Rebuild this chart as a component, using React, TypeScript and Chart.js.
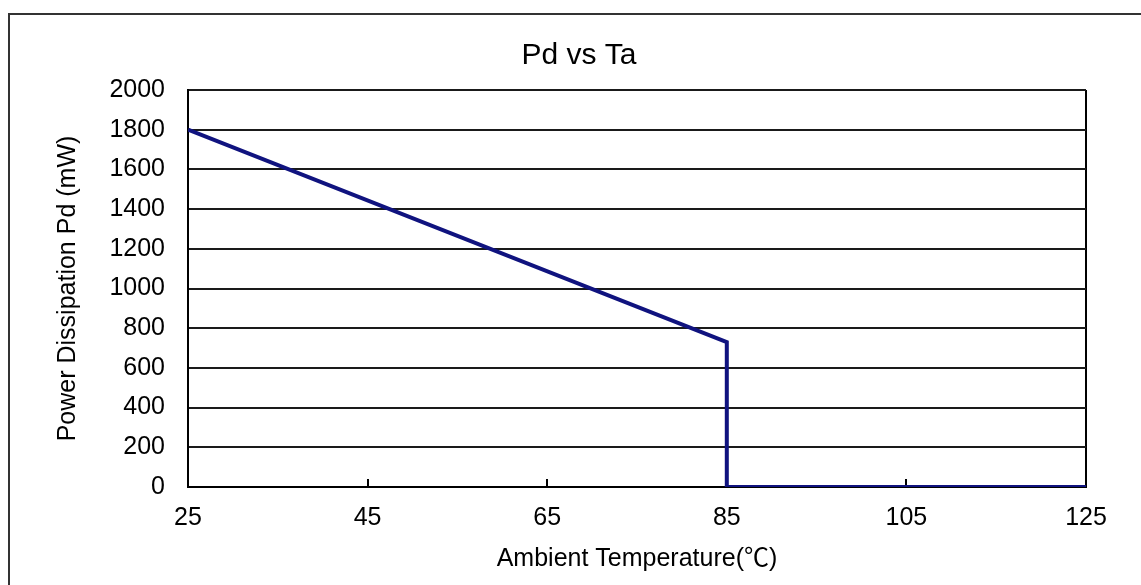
import React, { useEffect, useRef } from "react";
import { Chart, registerables } from "chart.js";

Chart.register(...registerables);

// ---- data ----
const temperatures = [25, 85, 85, 125];
const powerDissipation = [1800, 730, 0, 0];
const xTickValues = [25, 45, 65, 85, 105, 125];
const yTickValues = [0, 200, 400, 600, 800, 1000, 1200, 1400, 1600, 1800, 2000];
const chartTitle = "Pd vs Ta";
const xAxisTitle = "Ambient Temperature(℃)";
const yAxisTitle = "Power Dissipation Pd (mW)";

const FONT = 'Arial, "Liberation Sans", "Noto Sans CJK SC", sans-serif';

const decorations = {
  id: "decorations",
  beforeDraw(chart: any) {
    const { ctx } = chart;
    ctx.save();
    ctx.fillStyle = "#ffffff";
    ctx.fillRect(0, 0, chart.width, chart.height);
    ctx.strokeStyle = "#333333";
    ctx.lineWidth = 2;
    ctx.beginPath();
    ctx.moveTo(9, chart.height + 5);
    ctx.lineTo(9, 14);
    ctx.lineTo(chart.width + 5, 14);
    ctx.stroke();
    ctx.restore();
  },
  beforeDatasetsDraw(chart: any) {
    const { ctx, scales, chartArea } = chart;
    const x = scales.x;
    ctx.save();
    ctx.strokeStyle = "#000000";
    ctx.lineWidth = 2;
    ctx.beginPath();
    xTickValues.slice(1, -1).forEach((v) => {
      const px = Math.round(x.getPixelForValue(v));
      ctx.moveTo(px, chartArea.bottom);
      ctx.lineTo(px, chartArea.bottom - 8);
    });
    ctx.stroke();
    ctx.restore();
  },
  afterDraw(chart: any) {
    const { ctx } = chart;
    ctx.save();
    ctx.fillStyle = "#000000";
    ctx.font = `30px ${FONT}`;
    ctx.textAlign = "center";
    ctx.textBaseline = "middle";
    ctx.fillText(chartTitle, 579, 56);
    ctx.restore();
  },
};

export default function App() {
  const canvasRef = useRef<HTMLCanvasElement | null>(null);

  useEffect(() => {
    if (!canvasRef.current) return;
    const chart = new Chart(canvasRef.current, {
      type: "scatter",
      data: {
        datasets: [
          {
            label: "Pd",
            data: temperatures.map((t, i) => ({ x: t, y: powerDissipation[i] })),
            showLine: true,
            borderColor: "#10137f",
            backgroundColor: "#10137f",
            borderWidth: 4,
            pointRadius: 0,
            pointHoverRadius: 0,
            tension: 0,
          },
        ],
      },
      plugins: [decorations],
      options: {
        responsive: false,
        animation: false,
        devicePixelRatio: 1,
        layout: { padding: { top: 90, right: 55, left: 0, bottom: 0 } },
        plugins: {
          legend: { display: false },
          tooltip: { enabled: false },
          title: { display: false },
        },
        scales: {
          x: {
            type: "linear",
            min: 25,
            max: 125,
            afterFit(scale: any) {
              scale.height = 98;
            },
            afterBuildTicks(scale: any) {
              scale.ticks = xTickValues.map((v) => ({ value: v }));
            },
            ticks: {
              color: "#000000",
              font: { family: FONT, size: 25 },
              padding: 16,
              maxRotation: 0,
              autoSkip: false,
              callback: (v: any) => String(v),
            },
            grid: {
              drawTicks: false,
              lineWidth: 2,
              color: (c: any) =>
                c.tick && (c.tick.value === 25 || c.tick.value === 125) ? "#000000" : "rgba(0,0,0,0)",
            },
            border: { display: true, color: "#000000", width: 2 },
            title: {
              display: true,
              text: xAxisTitle,
              color: "#000000",
              font: { family: FONT, size: 25 },
              padding: { top: 0, bottom: 11 },
            },
          },
          y: {
            type: "linear",
            min: 0,
            max: 2000,
            afterFit(scale: any) {
              scale.width = 188;
            },
            afterBuildTicks(scale: any) {
              scale.ticks = yTickValues.map((v) => ({ value: v }));
            },
            ticks: {
              color: "#000000",
              font: { family: FONT, size: 25 },
              padding: 23,
              autoSkip: false,
              callback: (v: any) => String(v),
            },
            grid: {
              drawTicks: false,
              lineWidth: 2,
              color: "#1a1a1a",
            },
            border: { display: true, color: "#000000", width: 2 },
            title: {
              display: true,
              text: yAxisTitle,
              color: "#000000",
              font: { family: FONT, size: 25 },
              padding: { top: 53, bottom: 0 },
            },
          },
        },
      },
    });
    return () => chart.destroy();
  }, []);

  return (
    <div style={{ position: "fixed", left: 0, top: 0, width: 1141, height: 585, background: "#fff" }}>
      <canvas ref={canvasRef} width={1141} height={585} style={{ display: "block", width: 1141, height: 585 }} />
    </div>
  );
}
